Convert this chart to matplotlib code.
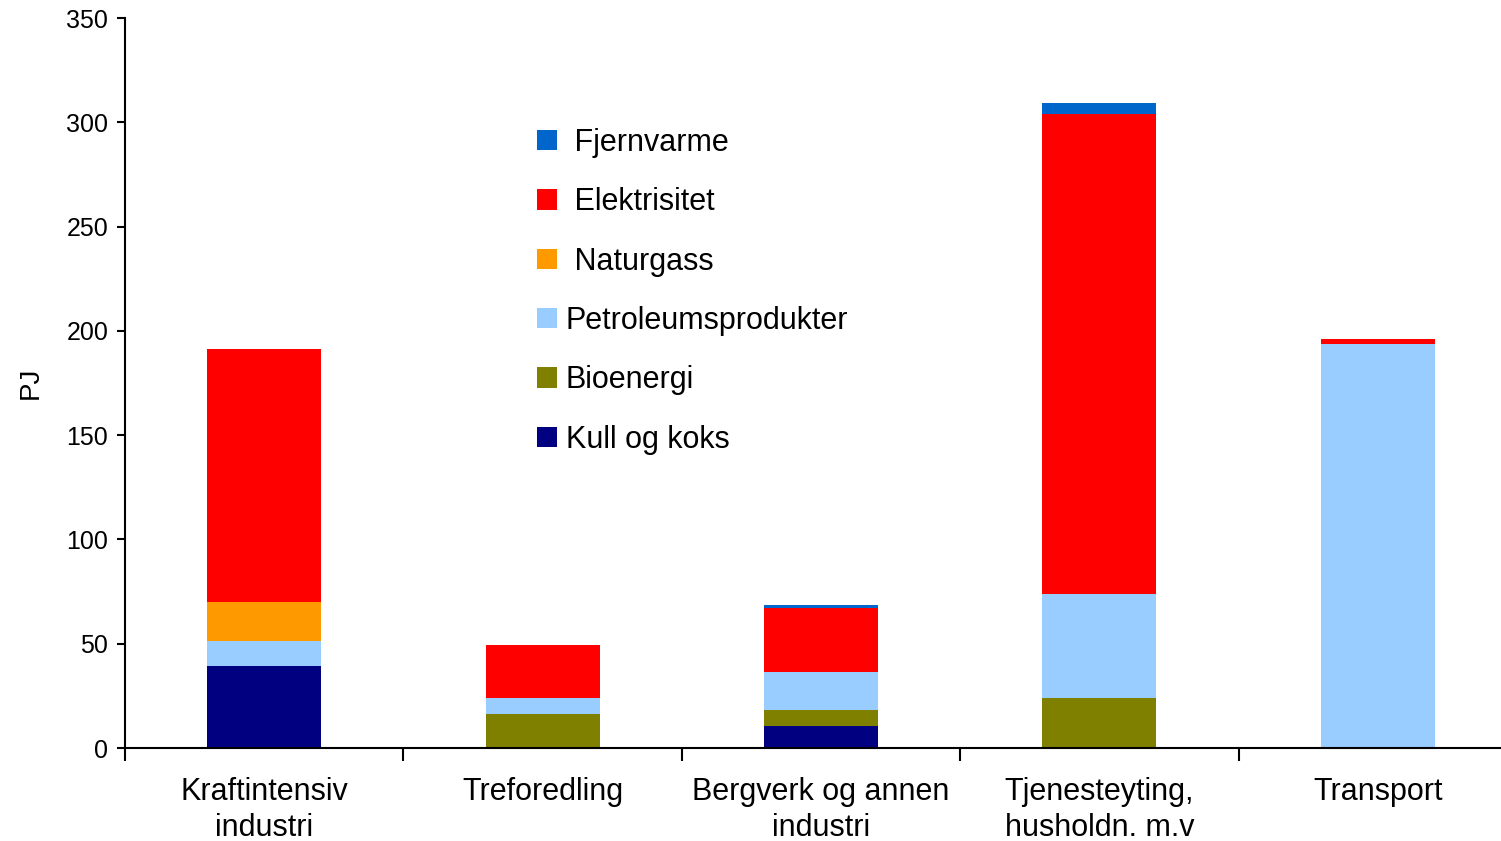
import matplotlib.pyplot as plt
import numpy as np

plt.rcParams["font.family"] = ["Liberation Sans", "DejaVu Sans"]

categories = [
    "Kraftintensiv\nindustri",
    "Treforedling",
    "Bergverk og annen\nindustri",
    "Tjenesteyting,\nhusholdn. m.v",
    "Transport",
]

# PJ per energy carrier, bottom to top
kull = [39.3, 0.0, 10.5, 0.0, 0.0]
bioenergi = [0.0, 16.3, 7.7, 24.0, 0.0]
petroleum = [12.0, 7.7, 18.2, 49.8, 193.7]
naturgass = [18.7, 0.0, 0.0, 0.0, 0.0]
elektrisitet = [121.3, 25.4, 30.7, 230.1, 2.4]
fjernvarme = [0.0, 0.0, 1.4, 5.3, 0.0]

series = [
    ("Kull og koks", kull, "#000080"),
    ("Bioenergi", bioenergi, "#808000"),
    ("Petroleumsprodukter", petroleum, "#99CCFF"),
    (" Naturgass", naturgass, "#FF9900"),
    (" Elektrisitet", elektrisitet, "#FF0000"),
    (" Fjernvarme", fjernvarme, "#0066CC"),
]

fig = plt.figure(figsize=(15.01, 8.41), dpi=100)
ax = fig.add_axes([125 / 1501, 1 - 748 / 841, 1392 / 1501, 730 / 841])

x = np.arange(len(categories))
bottom = np.zeros(len(categories))
handles = []
for label, values, color in series:
    vals = np.array(values)
    bars = ax.bar(x, vals, width=0.41, bottom=bottom, color=color, label=label, linewidth=0)
    handles.append(bars)
    bottom += vals

ax.set_xlim(-0.5, 4.5)
ax.set_ylim(0, 350)
ax.set_yticks(range(0, 351, 50))
ax.tick_params(axis="y", labelsize=18, length=6, width=1.5, pad=6)

ax.set_xticks(np.arange(-0.5, 4.5, 1.0))
ax.set_xticklabels([])
ax.set_xticks(x, minor=True)
ax.set_xticklabels(categories, minor=True, fontsize=22, linespacing=1.25)
ax.tick_params(axis="x", which="major", length=9, width=1.5)
ax.tick_params(axis="x", which="minor", length=0, pad=21)

for side in ("top", "right"):
    ax.spines[side].set_visible(False)
for side in ("left", "bottom"):
    ax.spines[side].set_linewidth(1.5)

ax.set_ylabel("PJ", fontsize=20, labelpad=16)

leg = ax.legend(
    handles[::-1],
    [s[0] for s in series][::-1],
    loc="upper left",
    bbox_to_anchor=(537 / 1501, 1 - 128 / 841),
    bbox_transform=fig.transFigure,
    frameon=False,
    fontsize=22,
    handlelength=0.65,
    handleheight=0.65,
    handletextpad=0.29,
    labelspacing=0.96,
    borderpad=0,
    borderaxespad=0,
)

fig.savefig("out.png", dpi=100)
